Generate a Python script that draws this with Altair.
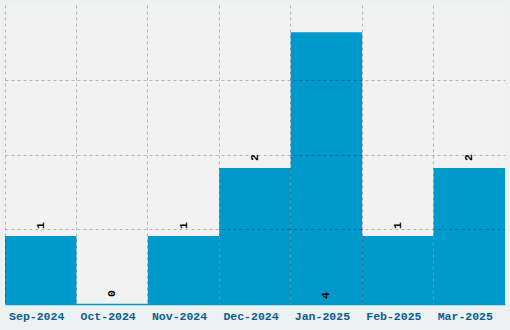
import altair as alt
import pandas as pd

months = ["Sep-2024", "Oct-2024", "Nov-2024", "Dec-2024", "Jan-2025", "Feb-2025", "Mar-2025"]
counts = [1, 0, 1, 2, 4, 1, 2]
grid_values = [1.1, 2.2, 3.3]

ymax = max(counts) * 1.1
df = pd.DataFrame({"month": months, "count": counts})
df["top"] = [c < max(counts) for c in counts]

FONT = "Liberation Mono"

base = alt.Chart(df)

bars = base.mark_bar(color="#0099cc").encode(
    x=alt.X("month:N", sort=None,
            scale=alt.Scale(paddingInner=0, paddingOuter=0),
            axis=alt.Axis(title=None, labelAngle=0, labelFont=FONT, labelFontWeight="bold",
                          labelFontSize=11.5, labelColor="#0b5d8f", labelPadding=6,
                          labelOffset=-4,
                          ticks=False, domainColor="#0099cc", domainWidth=1.5,
                          grid=True, gridDash=[3, 3], gridColor="#000000", gridOpacity=0.25,
                          bandPosition=0, zindex=1)),
    y=alt.Y("count:Q", scale=alt.Scale(domain=[0, ymax], nice=False),
            axis=alt.Axis(title=None, labels=False, ticks=False, domain=False,
                          values=grid_values, grid=True, gridDash=[3, 3],
                          gridColor="#000000", gridOpacity=0.25, zindex=1)),
)

labels_top = base.transform_filter("datum.top").mark_text(
    angle=270, align="left", baseline="middle", dx=7, font=FONT,
    fontWeight="bold", fontSize=11.5, color="#000000"
).encode(
    x=alt.X("month:N", sort=None),
    y=alt.Y("count:Q"),
    text=alt.Text("count:Q"),
)

labels_in = base.transform_filter("!datum.top").mark_text(
    angle=270, align="left", baseline="middle", dx=5, font=FONT,
    fontWeight="bold", fontSize=11.5, color="#000000"
).encode(
    x=alt.X("month:N", sort=None),
    y=alt.datum(0),
    text=alt.Text("count:Q"),
)

chart = alt.layer(bars, labels_top, labels_in).properties(
    width=500, height=299,
    background="#eef1f2",
    padding={"left": 5, "top": 5, "right": 5, "bottom": 26},
    autosize=alt.AutoSizeParams(type="none"),
).configure_view(fill="#f2f2f2", stroke=None)

chart.save("out.html", embed_options={"renderer": "svg", "actions": False})
